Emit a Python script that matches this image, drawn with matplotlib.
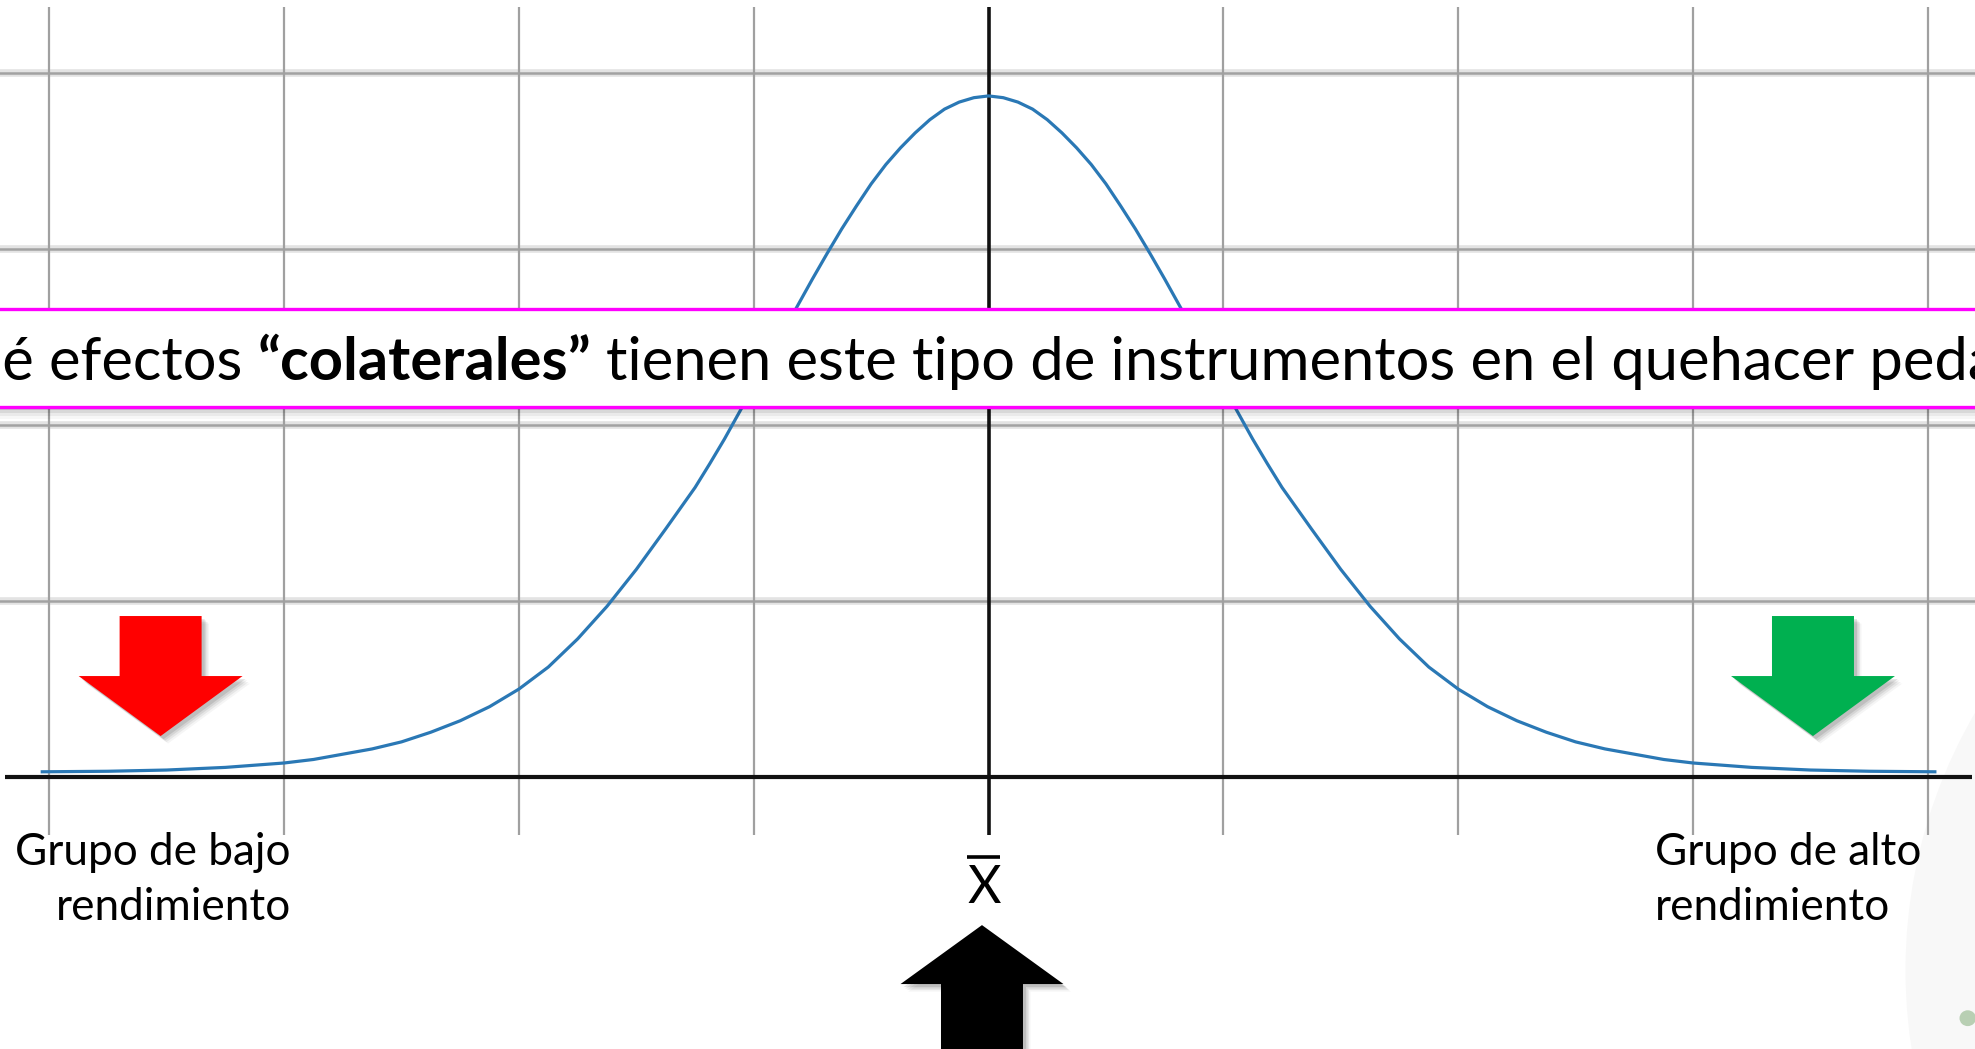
import matplotlib
matplotlib.use("Agg")
import matplotlib.pyplot as plt
import matplotlib.transforms as mtransforms
from matplotlib.patches import Polygon, Rectangle, Ellipse

# curve, x in grid units (0 = mean), y in grid rows
curve_x = [-4.03, -3.75, -3.5, -3.25, -3.0, -2.875, -2.75, -2.625, -2.5,
           -2.375, -2.25, -2.125, -2.0, -1.875, -1.75, -1.625, -1.5, -1.375,
           -1.25, -1.1875, -1.125, -1.0625, -1.0, -0.9375, -0.875, -0.8125,
           -0.75, -0.6875, -0.625, -0.5625, -0.5, -0.4375, -0.375, -0.3125,
           -0.25, -0.1875, -0.125, -0.0625, 0.0,
           0.0625, 0.125, 0.1875, 0.25, 0.3125, 0.375, 0.4375, 0.5, 0.5625,
           0.625, 0.6875, 0.75, 0.8125, 0.875, 0.9375, 1.0, 1.0625, 1.125,
           1.1875, 1.25, 1.375, 1.5, 1.625, 1.75, 1.875, 2.0, 2.125, 2.25,
           2.375, 2.5, 2.625, 2.75, 2.875, 3.0, 3.25, 3.5, 3.75, 4.03]
curve_y = [0.03, 0.033, 0.04, 0.055, 0.08, 0.10, 0.13, 0.16, 0.20,
           0.255, 0.32, 0.40, 0.50, 0.625, 0.785, 0.97, 1.18, 1.41,
           1.645, 1.78, 1.92, 2.07, 2.22, 2.375, 2.53, 2.68,
           2.83, 2.975, 3.115, 3.245, 3.37, 3.48, 3.575, 3.66,
           3.735, 3.795, 3.835, 3.86, 3.87,
           3.86, 3.835, 3.795, 3.735, 3.66, 3.575, 3.48, 3.37, 3.245,
           3.115, 2.975, 2.83, 2.68, 2.53, 2.375, 2.22, 2.07, 1.92,
           1.78, 1.645, 1.41, 1.18, 0.97, 0.785, 0.625, 0.50, 0.40, 0.32,
           0.255, 0.20, 0.16, 0.13, 0.10, 0.08, 0.055, 0.04, 0.033, 0.03]

grid_x = [-4, -3, -2, -1, 1, 2, 3, 4]
grid_y = [1, 2, 3, 4]

question = ["¿Qué efectos", "“colaterales”",
            "tienen este tipo de instrumentos en el quehacer pedagógico?"]
low_label = ["Grupo de bajo", "rendimiento"]
high_label = ["Grupo de alto", "rendimiento"]
mean_label = "X"

FONT = "Lato"
W, H = 1975, 1049

fig = plt.figure(figsize=(W / 100, H / 100), dpi=100)
ax = fig.add_axes([0, 0, 1, 1])
ax.set_xlim(-4.210, 4.201)
ax.set_ylim(-1.545, 4.415)
ax.axis("off")
renderer = fig.canvas.get_renderer()

# faint watermark in the corner
ax.add_patch(Ellipse((6.075, -1.097), 4.34, 5.8, color="#f8f8f8", zorder=0, lw=0))
ax.add_patch(Ellipse((4.17, -1.37), 0.07, 0.09, color="#b8cfb3", zorder=0.5, lw=0))

# grid
ax.hlines(grid_y, -4.3, 4.3, color="#e3e3e3", lw=5.5, zorder=1)
ax.hlines(grid_y, -4.3, 4.3, color="#a2a2a2", lw=1.8, zorder=1.1)
ax.vlines(grid_x, -0.33, 4.375, color="#a0a0a0", lw=1.6, zorder=1.2)

# axes
ax.hlines(0, -4.19, 4.19, color="#111111", lw=3.0, zorder=2)
ax.vlines(0, -0.33, 4.375, color="#111111", lw=2.6, zorder=2)

ax.plot(curve_x, curve_y, color="#2a78b5", lw=2.3, zorder=3,
        solid_joinstyle="round")

# question box with shadow
for i, a in enumerate([0.10, 0.07, 0.05, 0.03]):
    off = mtransforms.offset_copy(ax.transData, fig, x=0, y=-3 - 3 * i, units="dots")
    ax.add_patch(Rectangle((-4.5, 2.102), 9.0, 0.2, transform=off,
                           color="black", alpha=a, lw=0, zorder=4))
ax.add_patch(Rectangle((-4.5, 2.102), 9.0, 0.557, facecolor="white",
                       edgecolor="#ff00ff", lw=2.4, zorder=5))


def text_w(s, size, weight="normal"):
    t = fig.text(0, 0, s, fontsize=size, family=FONT, fontweight=weight)
    w = t.get_window_extent(renderer).width
    t.remove()
    return w


def space_w(size, weight="normal"):
    return text_w("a a", size, weight) - text_w("aa", size, weight)


# fit the question so that "é" starts at the left edge and "quehacer" at ~1608px
ref = 40
sp = space_w(ref)
span = (text_w(question[0], ref) - text_w("¿Qu", ref) + sp
        + text_w(question[1], ref, "bold") + space_w(ref, "bold")
        + text_w("tienen este tipo de instrumentos en el", ref) + sp)
qsize = ref * 1608 / span

base_y = ax.transData.transform((0, 2.256))[1] / H
xpx = 2 - text_w("¿Qu", qsize)
fig.text(xpx / W, base_y, question[0], fontsize=qsize, family=FONT,
         va="baseline", zorder=6)
xpx += text_w(question[0], qsize) + space_w(qsize)
fig.text(xpx / W, base_y, question[1], fontsize=qsize, family=FONT,
         fontweight="bold", va="baseline", zorder=6)
xpx += text_w(question[1], qsize, "bold") + space_w(qsize, "bold")
fig.text(xpx / W, base_y, question[2], fontsize=qsize, family=FONT,
         va="baseline", zorder=6)

# group labels
lsize = ref * 275 / text_w(low_label[0], ref)
for i, line in enumerate(low_label):
    ax.text(-2.971, -0.5 - 0.3125 * i, line, fontsize=lsize, family=FONT,
            ha="right", va="baseline", zorder=6)
for i, line in enumerate(high_label):
    ax.text(2.839, -0.5 - 0.3125 * i, line, fontsize=lsize, family=FONT,
            ha="left", va="baseline", zorder=6)

# mean label
ax.text(-0.019, -0.716, mean_label, fontsize=lsize * 1.17, family=FONT,
        ha="center", va="baseline", zorder=6)
ax.hlines(-0.4545, -0.093, 0.048, color="black", lw=2.6, zorder=6)


def arrow(cx, top, base, tip, shaft, head, color):
    pts = [(cx - shaft, top), (cx + shaft, top), (cx + shaft, base),
           (cx + head, base), (cx, tip), (cx - head, base), (cx - shaft, base)]
    for i, a in enumerate([0.10, 0.08, 0.06, 0.04]):
        off = mtransforms.offset_copy(ax.transData, fig, x=3 + 1.5 * i,
                                      y=-3 - 1.5 * i, units="dots")
        ax.add_patch(Polygon(pts, closed=True, transform=off, color="black",
                             alpha=a, lw=0, zorder=6.5))
    ax.add_patch(Polygon(pts, closed=True, color=color, lw=0, zorder=7))


arrow(-3.526, 0.915, 0.574, 0.233, 0.1746, 0.349, "#ff0000")
arrow(3.511, 0.915, 0.574, 0.233, 0.1746, 0.349, "#00b050")
arrow(-0.028, -1.62, -1.176, -0.841, 0.1746, 0.347, "#000000")

fig.savefig("out.png", dpi=100)
